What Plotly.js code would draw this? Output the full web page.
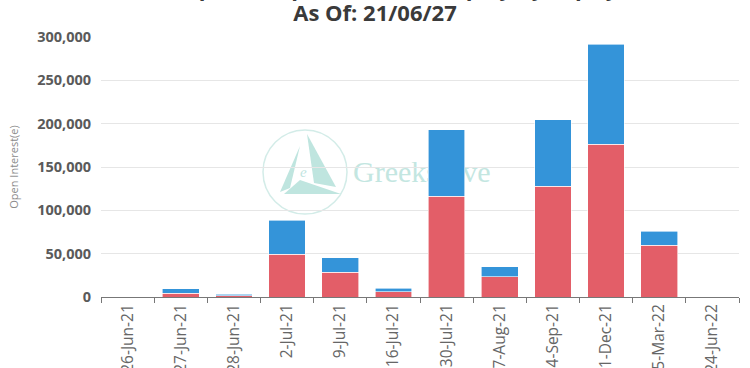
<!DOCTYPE html>
<html>
<head>
<meta charset="utf-8">
<script src="https://cdn.plot.ly/plotly-3.0.1.min.js"></script>
<style>
  html, body { margin: 0; padding: 0; background: #ffffff; overflow: hidden; }
  #wrap { position: relative; width: 750px; height: 368px; }
  #wm { position: absolute; left: 0; top: 0; z-index: 0; }
  #chart { position: absolute; left: 0; top: 0; width: 750px; height: 368px; z-index: 1; }
</style>
</head>
<body>
<div id="wrap">
  <svg id="wm" width="750" height="368" xmlns="http://www.w3.org/2000/svg">
    <circle cx="305" cy="172" r="42" fill="none" stroke="#d3ece8" stroke-width="1.5"/>
    <polygon points="307,134 336,187 314,183" fill="#bfe5df"/>
    <polygon points="300,146 280,192 290,188" fill="#bfe5df"/>
    <polygon points="284,194 341,194 300,180" fill="#bfe5df"/>
    <text x="300" y="177" font-family="Liberation Serif" font-style="italic" font-size="15" fill="#bfe5df">e</text>
    <text x="353" y="182" font-family="Liberation Serif" font-size="30" fill="#c3e6e1">Greeks.live</text>
  </svg>
  <div id="chart"></div>
</div>
<script>
// ---- data ----
const expiries = ['26-Jun-21','27-Jun-21','28-Jun-21','2-Jul-21','9-Jul-21','16-Jul-21','30-Jul-21','27-Aug-21','24-Sep-21','31-Dec-21','25-Mar-22','24-Jun-22'];
const redValues = [0, 4500, 1500, 49500, 28600, 6250, 116500, 23100, 127800, 176200, 59800, 0];
const blueValues = [0, 5000, 1500, 39300, 16900, 3800, 76300, 11600, 76500, 115200, 16200, 0];
const titleLine1 = 'BTC Options Open Interest Display by Expiry';
const titleLine2 = 'As Of: 21/06/27';
const yTitle = 'Open Interest(e)';

const traces = [
  { type: 'bar', name: 'Put', x: expiries, y: redValues,
    marker: { color: '#e35e68', line: { color: '#ffffff', width: 0.6 } }, hoverinfo: 'x+y' },
  { type: 'bar', name: 'Call', x: expiries, y: blueValues,
    marker: { color: '#3494d9', line: { color: '#ffffff', width: 0.6 } }, hoverinfo: 'x+y' }
];

const layout = {
  width: 750, height: 368,
  margin: { l: 100.5, r: 11, t: 37, b: 71.3 },
  paper_bgcolor: 'rgba(0,0,0,0)',
  plot_bgcolor: 'rgba(0,0,0,0)',
  barmode: 'stack',
  bargap: 0.31,
  showlegend: false,
  font: { family: 'Open Sans, Noto Sans, sans-serif', color: '#666' },
  title: {
    text: titleLine2,
    font: { size: 22, color: '#3a3a3a', family: 'Open Sans, sans-serif', weight: 'bold' },
    xref: 'container', x: 0.5, xanchor: 'center',
    yref: 'container', y: 1 - 13 / 368, yanchor: 'middle'
  },
  annotations: [{
    text: titleLine1, showarrow: false,
    xref: 'paper', x: (376 - 100.5) / 638.5, xanchor: 'center',
    yref: 'paper', y: 1, yanchor: 'middle', yshift: 50,
    font: { size: 22, color: '#3a3a3a', family: 'Open Sans, sans-serif', weight: 'bold' }
  }],
  xaxis: {
    type: 'category',
    tickangle: -90,
    tickson: 'boundaries',
    ticks: 'outside', ticklen: 5, tickcolor: '#777', tickwidth: 1,
    showline: true, linecolor: '#777', linewidth: 1,
    showgrid: false,
    tickfont: { size: 15.5, color: '#666' },
    fixedrange: true
  },
  yaxis: {
    range: [0, 300000],
    dtick: 50000,
    tickformat: ',d',
    showgrid: true, gridcolor: '#e6e6e6', gridwidth: 1,
    zeroline: false, showline: false,
    ticks: 'outside', ticklen: 6, tickcolor: 'rgba(0,0,0,0)',
    tickfont: { size: 14.5, color: '#5a5a5a', weight: 'bold' },
    title: { text: yTitle, font: { size: 11, color: '#8a8a8a' }, standoff: 16 },
    fixedrange: true
  }
};

Plotly.newPlot('chart', traces, layout, { displayModeBar: false, staticPlot: true });
</script>
</body>
</html>
